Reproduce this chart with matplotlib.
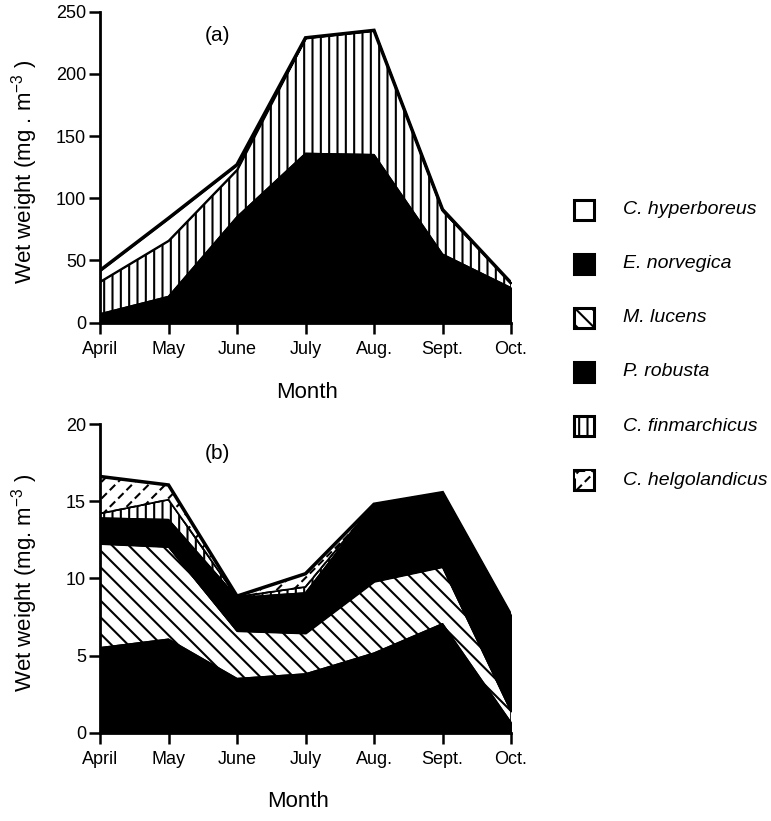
import numpy as np
import matplotlib
matplotlib.use("Agg")
import matplotlib.pyplot as plt
from matplotlib.patches import Rectangle

plt.rcParams['font.family'] = ['Liberation Sans', 'DejaVu Sans']
plt.rcParams['mathtext.fontset'] = 'custom'
plt.rcParams['mathtext.rm'] = 'Liberation Sans'
plt.rcParams['mathtext.it'] = 'Liberation Sans:italic'
plt.rcParams['hatch.linewidth'] = 1.5

# ---------------- data ----------------
months = ['April', 'May', 'June', 'July', 'Aug.', 'Sept.', 'Oct.']

# panel (a): layer values (mg m-3), bottom to top
a_norvegica = [7, 21, 85, 136, 135, 55, 28]
a_finmarchicus = [26, 45, 38, 93, 100, 35, 4]
a_hyperboreus = [9, 18, 4, 0, 0, 1, 0]

# panel (b): layer values (mg m-3), bottom to top
b_norvegica = [5.5, 6.05, 3.5, 3.8, 5.15, 7.05, 0.65]
b_lucens = [6.75, 6.0, 3.1, 2.65, 4.65, 3.7, 0.75]
b_robusta = [1.65, 1.75, 2.15, 2.6, 5.0, 4.8, 6.2]
b_finmarchicus = [0.3, 1.3, 0.05, 0.4, 0.0, 0.0, 0.0]
b_helgolandicus = [2.4, 0.95, 0.05, 0.85, 0.0, 0.0, 0.0]

legend_labels = ['C. hyperboreus', 'E. norvegica', 'M. lucens',
                 'P. robusta', 'C. finmarchicus', 'C. helgolandicus']

a_ticks = [0, 50, 100, 150, 200, 250]
b_ticks = [0, 5, 10, 15, 20]

# ---------------- styles ----------------
style = {
    'C. hyperboreus': dict(fc='white', hatch=None, cut=None),
    'E. norvegica': dict(fc='black', hatch=None, cut=None),
    'M. lucens': dict(fc='white', hatch='\\\\', cut=None),
    'P. robusta': dict(fc='black', hatch=None, cut=None),
    'C. finmarchicus': dict(fc='white', hatch='||', cut=None),
    'C. helgolandicus': dict(fc='white', hatch='//', cut='\\\\'),
}

W, H = 771, 821
fig = plt.figure(figsize=(W / 100, H / 100), dpi=100)


def ax_rect(left, top, right, bottom):
    return [left / W, 1 - bottom / H, (right - left) / W, (bottom - top) / H]


ax_a = fig.add_axes(ax_rect(100, 11.7, 511, 322.7))
ax_b = fig.add_axes(ax_rect(100, 424, 511, 732.7))

x = np.arange(len(months))


def draw_stack(ax, layers, names):
    base = np.zeros(len(months))
    for vals, name in zip(layers, names):
        top = base + np.asarray(vals, dtype=float)
        st = style[name]
        ax.fill_between(x, base, top, facecolor=st['fc'], hatch=st['hatch'],
                        edgecolor='black', linewidth=1.2, zorder=2)
        if st['cut']:
            with plt.rc_context({'hatch.linewidth': 3.0}):
                ax.fill_between(x, base, top, facecolor='none', hatch=st['cut'],
                                edgecolor='white', linewidth=0, zorder=2.5)
        ax.plot(x, top, color='black', lw=1.2, zorder=3)
        base = top
    ax.plot(x, base, color='black', lw=2.5, zorder=4, solid_joinstyle='miter')


draw_stack(ax_a, [a_norvegica, a_finmarchicus, a_hyperboreus],
           ['E. norvegica', 'C. finmarchicus', 'C. hyperboreus'])
draw_stack(ax_b, [b_norvegica, b_lucens, b_robusta, b_finmarchicus, b_helgolandicus],
           ['E. norvegica', 'M. lucens', 'P. robusta', 'C. finmarchicus', 'C. helgolandicus'])

for ax, ticks, ylab, mx in ((ax_a, a_ticks, r'Wet weight (mg . m$^{-3}$ )', 0.503),
                            (ax_b, b_ticks, r'Wet weight (mg. m$^{-3}$ )', 0.482)):
    ax.set_xlim(0, 6)
    ax.set_ylim(ticks[0], ticks[-1])
    ax.set_xticks(x)
    ax.set_xticklabels(months)
    ax.set_yticks(ticks)
    for s in ('top', 'right'):
        ax.spines[s].set_visible(False)
    for s in ('left', 'bottom'):
        ax.spines[s].set_linewidth(2)
    ax.tick_params(axis='x', direction='out', length=8, width=1.8, pad=5, labelsize=13)
    ax.tick_params(axis='y', direction='out', length=8, width=1.8, pad=2, labelsize=13)
    ax.set_ylabel(ylab, fontsize=16)
    ax.yaxis.set_label_coords(-0.145, 0.485)
    ax.set_xlabel('Month', fontsize=16)
    ax.xaxis.set_label_coords(mx, -0.19)
    ax.set_facecolor('none')

ax_a.text(1.71, 231, '(a)', fontsize=15, ha='center', va='center')
ax_b.text(1.71, 18.1, '(b)', fontsize=15, ha='center', va='center')

# legend
for i, name in enumerate(legend_labels):
    yc = 210 + 54 * i
    st = style[name]
    r = Rectangle((574 / W, 1 - (yc + 10) / H), 20 / W, 20 / H,
                  transform=fig.transFigure, facecolor=st['fc'], hatch=st['hatch'],
                  edgecolor='black', linewidth=2.2)
    fig.add_artist(r)
    if st['cut']:
        with plt.rc_context({'hatch.linewidth': 3.0}):
            r2 = Rectangle((575 / W, 1 - (yc + 9) / H), 18 / W, 18 / H,
                           transform=fig.transFigure, facecolor='none', hatch=st['cut'],
                           edgecolor='white', linewidth=0)
            fig.add_artist(r2)
    fig.text(623 / W, 1 - yc / H, name, fontsize=14, style='italic',
             ha='left', va='center')

fig.savefig('out.png', dpi=100)
